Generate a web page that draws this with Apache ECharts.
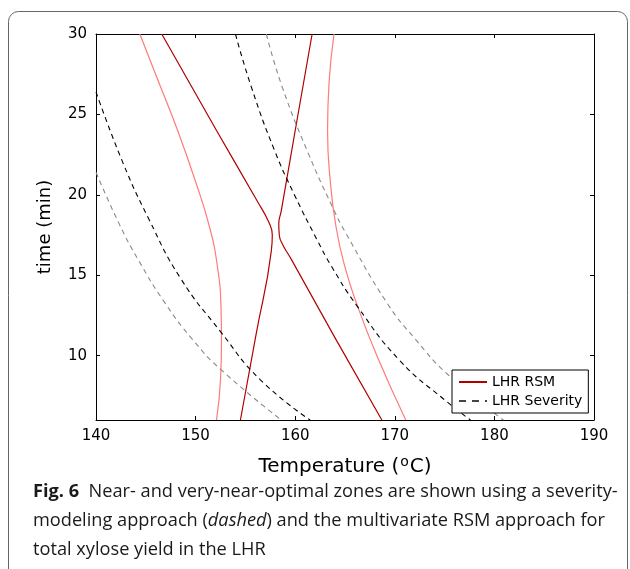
<!DOCTYPE html>
<html>
<head>
<meta charset="utf-8">
<script src="https://cdn.jsdelivr.net/npm/echarts@6.0.0/dist/echarts.min.js"></script>
<style>
    html, body { margin: 0; padding: 0; background: #fff; }
    #chart { width: 630px; height: 569px; }
</style>
</head>
<body>
<div id="chart"></div>
<script>
// values: [temperature (C), time (min)]
const rsmNearLeft = [[146.6, 30], [152.1, 24], [156.2, 19.6], [157.35, 18.3], [157.7, 17.5],
    [157.6, 16.5], [156.05, 11.25], [154.5, 6]];
const rsmNearRight = [[161.7, 30], [160.0, 24], [158.6, 19], [158.35, 18.2], [158.4, 17.5],
    [158.75, 16.9], [159.6, 16.0], [164.1, 11], [168.7, 6]];
const rsmVeryLeft = [[144.4, 30], [146.3, 27], [148.2, 24], [149.9, 21], [151.4, 18], [152.2, 15.5],
    [152.55, 13], [152.6, 11], [152.5, 8.5], [152.1, 6]];
const rsmVeryRight = [[163.9, 30], [163.4, 27], [163.25, 24], [163.5, 21], [164.1, 18], [165.0, 15.5],
    [166.3, 13], [168.2, 10], [171.1, 6]];
const sevNearLeft = [[140, 26.4], [142.7, 22.0], [145.3, 18.5], [148.5, 14.8], [152.5, 11.5], [156.5, 8.5], [161.5, 6]];
const sevNearRight = [[154.0, 30], [155.6, 26.7], [157.9, 22.8], [160.0, 19.9], [162.2, 17.2], [163.6, 15.6],
    [166.2, 13.1], [170.5, 9.7], [175.1, 7.2], [177.6, 6]];
const sevVeryLeft = [[140, 21.4], [142.4, 18.1], [144.3, 15.9], [146.9, 13.3], [149.7, 11.0], [152.6, 9.1], [158.6, 6]];
const sevVeryRight = [[157.1, 30], [158.7, 26.7], [161.3, 22.6], [163.7, 19.3], [165.1, 17.6], [169.3, 13.2],
    [172.1, 11.0], [175.2, 8.9], [180.9, 6]];

const yTicks = [10, 15, 20, 25, 30];
const legendNames = ['LHR RSM', 'LHR Severity'];

const tickFont = 'DejaVu Sans';
const capFont = 'Open Sans';

function curve(name, data, color, type, width) {
    return {
        name: name,
        type: 'line',
        data: data,
        symbol: 'none',
        smooth: 0.5,
        silent: true,
        lineStyle: { color: color, width: width, type: type },
        itemStyle: { color: color }
    };
}

const chart = echarts.init(document.getElementById('chart'));

const option = {
    animation: false,
    backgroundColor: '#fff',
    grid: { left: 96, top: 34, width: 498, height: 386 },
    legend: {
        data: [
            { name: legendNames[0] },
            { name: legendNames[1], lineStyle: { type: [7, 6], color: '#444' } }
        ],
        orient: 'vertical',
        left: 452,
        top: 370,
        padding: [5, 6, 5, 6],
        itemGap: 5,
        itemWidth: 28,
        itemHeight: 14,
        borderColor: '#000',
        borderWidth: 1,
        borderRadius: 0,
        backgroundColor: '#fff',
        itemStyle: { opacity: 0 },
        textStyle: { fontFamily: tickFont, fontSize: 14, color: '#000' }
    },
    xAxis: [
        {
            type: 'value', min: 140, max: 190, interval: 10,
            name: 'Temperature ({s|o}C)',
            nameLocation: 'middle',
            nameGap: 35,
            nameTextStyle: {
                fontFamily: tickFont, fontSize: 20, color: '#000',
                rich: { s: { fontFamily: tickFont, fontSize: 14, verticalAlign: 'top', padding: [0, 1, 9, 1] } }
            },
            axisLine: { lineStyle: { color: '#000', width: 1 } },
            axisTick: { inside: true, length: 4, lineStyle: { color: '#000' } },
            axisLabel: { fontFamily: tickFont, fontSize: 15, color: '#000', margin: 9 },
            splitLine: { show: false }
        },
        {
            type: 'value', min: 140, max: 190, interval: 10, position: 'top',
            axisLine: { lineStyle: { color: '#000', width: 1 } },
            axisTick: { inside: true, length: 4, lineStyle: { color: '#000' } },
            axisLabel: { show: false },
            splitLine: { show: false }
        }
    ],
    yAxis: [
        {
            type: 'value', min: 6, max: 30,
            name: 'time (min)',
            nameLocation: 'middle',
            nameGap: 42,
            nameTextStyle: { fontFamily: tickFont, fontSize: 18, color: '#000' },
            axisLine: { lineStyle: { color: '#000', width: 1 } },
            axisTick: { inside: true, length: 4, customValues: yTicks, lineStyle: { color: '#000' } },
            axisLabel: { fontFamily: tickFont, fontSize: 15, color: '#000', margin: 9, customValues: yTicks },
            splitLine: { show: false }
        },
        {
            type: 'value', min: 6, max: 30, position: 'right',
            axisLine: { lineStyle: { color: '#000', width: 1 } },
            axisTick: { inside: true, length: 4, customValues: yTicks, lineStyle: { color: '#000' } },
            axisLabel: { show: false },
            splitLine: { show: false }
        }
    ],
    series: [
        curve('LHR RSM', rsmNearLeft, '#b00000', 'solid', 1.2),
        curve('LHR RSM', rsmNearRight, '#b00000', 'solid', 1.2),
        curve('LHR RSM very near', rsmVeryLeft, '#ff7a7a', 'solid', 1.2),
        curve('LHR RSM very near', rsmVeryRight, '#ff7a7a', 'solid', 1.2),
        curve('LHR Severity', sevNearLeft, '#000', [5, 4], 1.1),
        curve('LHR Severity', sevNearRight, '#000', [5, 4], 1.1),
        curve('LHR Severity very near', sevVeryLeft, '#8a8a8a', [5, 4], 1.1),
        curve('LHR Severity very near', sevVeryRight, '#8a8a8a', [5, 4], 1.1)
    ],
    graphic: [
        {
            type: 'rect',
            shape: { x: 8.5, y: 11.5, width: 619, height: 600, r: 10 },
            style: { fill: 'none', stroke: '#666', lineWidth: 1 },
            silent: true
        },
        {
            type: 'text',
            left: 33,
            top: 477,
            style: {
                text: '{b|Fig. 6}  Near- and very-near-optimal zones are shown using a severity-\n' +
                    'modeling approach ({i|dashed}) and the multivariate RSM approach for\n' +
                    'total xylose yield in the LHR',
                fontFamily: capFont,
                fontSize: 18.2,
                lineHeight: 29,
                fill: '#1a1a1a',
                rich: {
                    b: { fontFamily: capFont, fontSize: 18.2, fontWeight: 'bold', fill: '#1a1a1a', lineHeight: 29 },
                    i: { fontFamily: capFont, fontSize: 18.2, fontStyle: 'italic', fill: '#1a1a1a', lineHeight: 29 }
                }
            },
            silent: true
        }
    ]
};

chart.setOption(option);
</script>
</body>
</html>
